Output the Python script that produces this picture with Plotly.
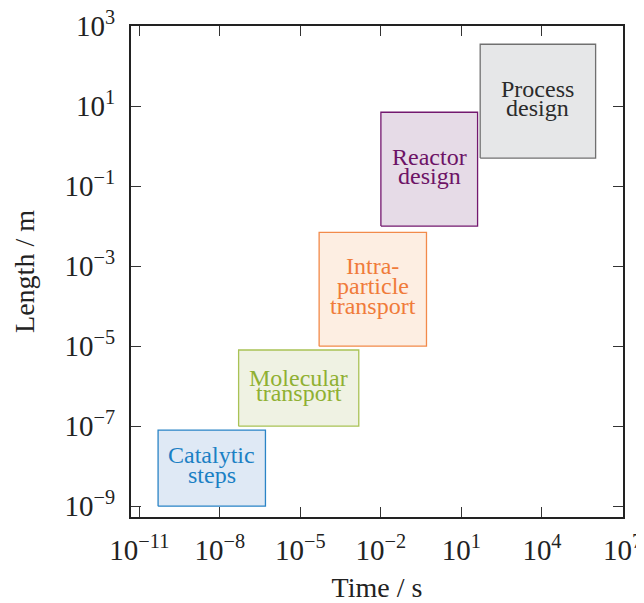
import math
import plotly.graph_objects as go

# ---- data ----
labels = ["Catalytic<br>steps", "Molecular<br>transport", "Intra-<br>particle<br>transport",
          "Reactor<br>design", "Process<br>design"]
time_min = [5e-11, 5e-8, 5e-5, 1e-2, 50]
time_max = [5e-7, 1.5e-3, 0.5, 40, 1e6]
length_min = [1e-9, 1e-7, 1e-5, 1e-2, 0.5]
length_max = [8e-8, 8e-6, 7e-3, 7, 350]

line_colors = ["#2a84c6", "#a9c255", "#f28a4a", "#73186f", "#707070"]
fill_colors = ["#dfe9f5", "#eff2e3", "#fdeee2", "#e6dbe7", "#e6e7e8"]
text_colors = ["#1b80c4", "#8fb032", "#f07b3a", "#6d1366", "#2b2b2b"]
line_spacing = [20, 15, 20, 19, 19]

x_tickvals = [1e-11, 1e-8, 1e-5, 1e-2, 1e1, 1e4, 1e7]
x_ticktext = ["10<sup>−11</sup>", "10<sup>−8</sup>", "10<sup>−5</sup>", "10<sup>−2</sup>",
              "10<sup>1</sup>", "10<sup>4</sup>", "10<sup>7</sup>"]
y_tickvals = [1e-9, 1e-7, 1e-5, 1e-3, 1e-1, 1e1, 1e3]
y_ticktext = ["10<sup>−9</sup>", "10<sup>−7</sup>", "10<sup>−5</sup>", "10<sup>−3</sup>",
              "10<sup>−1</sup>", "10<sup>1</sup>", "10<sup>3</sup>"]

FONT = "'Liberation Serif', 'Times New Roman', Times, serif"

fig = go.Figure()
annotations = []
for i, lab in enumerate(labels):
    x0, x1 = time_min[i], time_max[i]
    y0, y1 = length_min[i], length_max[i]
    fig.add_trace(go.Scatter(
        x=[x0, x1, x1, x0, x0], y=[y0, y0, y1, y1, y0],
        mode="lines", fill="toself", fillcolor=fill_colors[i],
        line=dict(color=line_colors[i], width=1.3),
        hoverinfo="skip", showlegend=False))
    cx = (math.log10(x0) + math.log10(x1)) / 2
    cy = (math.log10(y0) + math.log10(y1)) / 2
    parts = lab.split("<br>")
    n = len(parts)
    for k, p in enumerate(parts):
        annotations.append(dict(
            x=cx, y=cy, xref="x", yref="y", text=p, showarrow=False,
            yshift=((n - 1) / 2 - k) * line_spacing[i] + 3,
            font=dict(family=FONT, size=24, color=text_colors[i])))

axis_common = dict(
    type="log", showgrid=False, zeroline=False,
    showline=True, linewidth=2, linecolor="#222222", mirror="ticks",
    ticks="inside", ticklen=10, tickwidth=1.3, tickcolor="#333333",
    tickfont=dict(family=FONT, size=29, color="#222222"),
    ticklabeloverflow="allow",
)

fig.update_xaxes(**axis_common, range=[-11.31, 7.02],
                 tickvals=x_tickvals, ticktext=x_ticktext,
                 ticklabelstandoff=6,
                 title=dict(text="Time / s", font=dict(family=FONT, size=28, color="#222222"), standoff=13))
fig.update_yaxes(**axis_common, range=[-9.27, 3.0],
                 tickvals=y_tickvals, ticktext=y_ticktext,
                 ticklabelstandoff=8,
                 title=dict(text="Length / m", font=dict(family=FONT, size=28, color="#222222"), standoff=22))

# the page body adds an 8px margin; compensate so the plot frame lands where the reference has it
fig.update_layout(
    width=636, height=595,
    margin=dict(l=123, r=21, t=18, b=86, autoexpand=False),
    plot_bgcolor="white", paper_bgcolor="white",
    annotations=annotations, showlegend=False,
)

fig.write_html("out.html")
